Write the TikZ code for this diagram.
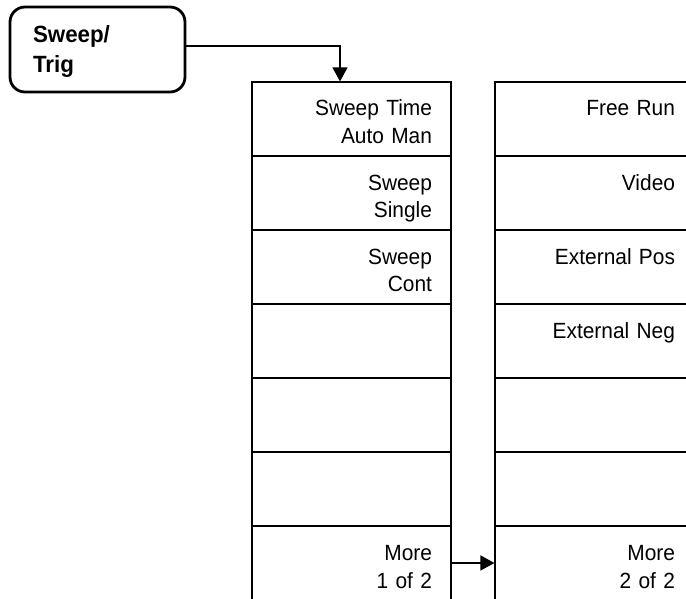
\documentclass[tikz,border=0pt]{standalone}
\usepackage{fontspec}
\setmainfont{Liberation Sans}[FakeStretch=0.95]
\usetikzlibrary{arrows.meta}

\tikzset{
  softkey/.style={draw, line width=1.2pt, minimum width=199pt, minimum height=74pt,
    text width=161pt, inner xsep=19pt, inner ysep=0pt, align=right,
    text height=15pt, text depth=21pt},
  hardkey/.style={draw, line width=2.8pt, rounded corners=15pt, minimum width=175pt,
    minimum height=85pt, text width=129pt, inner xsep=23pt, inner ysep=0pt, align=left,
    text height=16pt, text depth=30pt, font=\bfseries\fontsize{23.5pt}{30pt}\selectfont},
  flow/.style={-{Triangle[length=14pt,width=15pt]}, line width=1.6pt}
}

\begin{document}
\begin{tikzpicture}[x=1pt, y=-1pt, every node/.style={font=\fontsize{22pt}{28pt}\selectfont}]
  \useasboundingbox (0,0) rectangle (686,599);
  \clip (0,0) rectangle (686,599);

  % Front panel key
  \node[hardkey] (trig) at (97.5,49.5) {Sweep/\\Trig};

  % Menu 1 of 2
  \node[softkey] (k1) at (351.5,119) {Sweep Time\\Auto Man};
  \node[softkey] (k2) at (351.5,193) {Sweep\\Single};
  \node[softkey] (k3) at (351.5,267) {Sweep\\Cont};
  \node[softkey] (k4) at (351.5,341) {};
  \node[softkey] (k5) at (351.5,415) {};
  \node[softkey] (k6) at (351.5,489) {};
  \node[softkey] (k7) at (351.5,563) {More\\1 of 2};

  % Menu 2 of 2
  \node[softkey] (m1) at (594.5,119) {Free Run};
  \node[softkey] (m2) at (594.5,193) {Video};
  \node[softkey] (m3) at (594.5,267) {External Pos};
  \node[softkey] (m4) at (594.5,341) {External Neg};
  \node[softkey] (m5) at (594.5,415) {};
  \node[softkey] (m6) at (594.5,489) {};
  \node[softkey] (m7) at (594.5,563) {More\\2 of 2};

  % Flow arrows
  \coordinate (drop) at ([xshift=-11.5pt]k1.north);
  \draw[flow, line width=1.4pt] ([yshift=3.5pt]trig.east) -| (drop);
  \draw[flow] (k7.east) -- (m7.west);
\end{tikzpicture}
\end{document}
